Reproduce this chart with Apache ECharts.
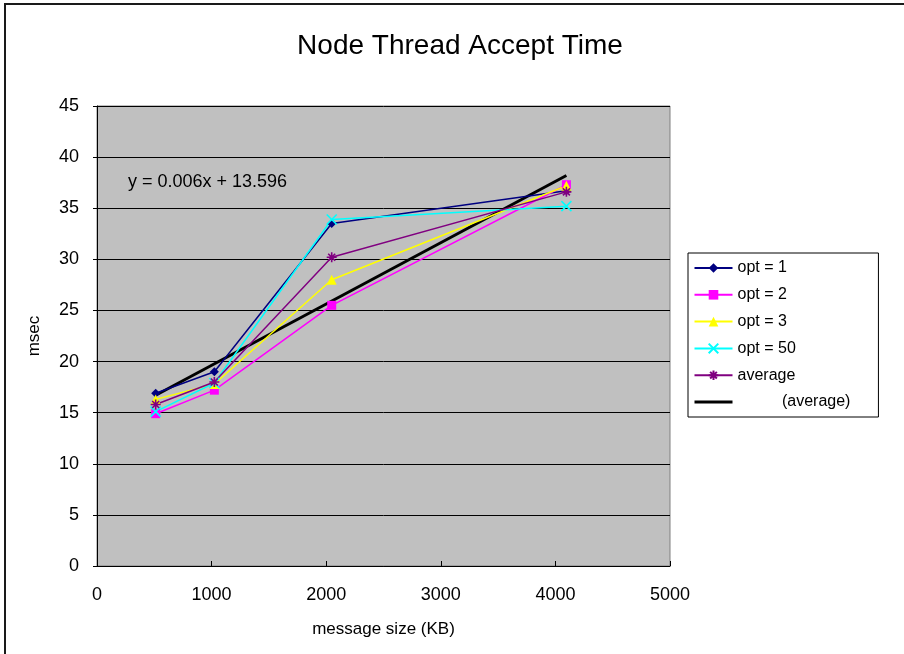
<!DOCTYPE html>
<html>
<head>
<meta charset="utf-8">
<script src="https://cdn.jsdelivr.net/npm/echarts@6/dist/echarts.min.js"></script>
<style>
  html, body { margin: 0; padding: 0; background: #fff; }
  #main { width: 904px; height: 654px; }
</style>
</head>
<body>
<div id="main"></div>
<script>
// message size (KB)
const sizes = [512, 1024, 2048, 4096];

// msec per series
const opt1 = [16.9, 19.0, 33.5, 36.7];
const opt2 = [14.9, 17.2, 25.5, 37.3];
const opt3 = [16.3, 17.8, 28.0, 37.2];
const opt50 = [15.1, 17.9, 33.9, 35.2];
const average = [15.8, 18.0, 30.2, 36.6];

// linear trend of average at its two ends
const trendX = [512, 4096];
const trendY = [16.7, 38.2];

const font = "'Liberation Sans', Arial, sans-serif";

const xSym = 'path://M0,0L10,10M10,0L0,10';
const starSym = 'path://M0,5L10,5M5,0L5,10M1.5,1.5L8.5,8.5M8.5,1.5L1.5,8.5';

function pairs(xs, ys) {
    return xs.map((x, i) => [x, ys[i]]);
}

function lineSeries(name, ys, color, symbol, size, stroke) {
    return {
        name: name,
        type: 'line',
        data: pairs(sizes, ys),
        symbol: symbol,
        symbolSize: size,
        lineStyle: {color: color, width: 1.5},
        itemStyle: stroke
            ? {color: 'none', borderColor: color, borderWidth: 1.6}
            : {color: color, borderColor: color, borderWidth: 0},
        emphasis: {disabled: true},
        z: 3
    };
}

const chart = echarts.init(document.getElementById('main'));

const option = {
    animation: false,
    backgroundColor: '#fff',
    textStyle: {fontFamily: font, color: '#000'},
    title: {
        text: 'Node Thread Accept Time',
        left: 455,
        textAlign: 'center',
        top: 27,
        textStyle: {fontSize: 28, fontWeight: 'normal', color: '#000', fontFamily: font}
    },
    graphic: [
        {
            type: 'rect',
            shape: {x: 5, y: 4, width: 1200, height: 1200},
            style: {fill: 'none', stroke: '#1a1a1a', lineWidth: 2},
            silent: true,
            z: -1
        },
        {
            type: 'text',
            left: 128,
            top: 173,
            style: {text: 'y = 0.006x + 13.596', fontSize: 18, fill: '#000', fontFamily: font},
            z: 10
        }
    ],
    legend: {
        orient: 'vertical',
        left: 688,
        top: 253,
        padding: [7, 28, 7, 5],
        itemWidth: 38,
        itemHeight: 12,
        itemGap: 10.8,
        backgroundColor: '#fff',
        borderColor: '#000',
        borderWidth: 1,
        borderRadius: 0,
        textStyle: {fontSize: 16, color: '#000', fontFamily: font},
        formatter: function (name) {
            return name === '(average)' ? '          (average)' : name;
        },
        data: [
            'opt = 1', 'opt = 2', 'opt = 3', 'opt = 50', 'average',
            {name: '(average)', itemStyle: {opacity: 0}, lineStyle: {width: 3}}
        ]
    },
    grid: {
        left: 97,
        top: 106,
        width: 573,
        height: 460,
        show: true,
        backgroundColor: '#c0c0c0',
        borderColor: '#808080',
        borderWidth: 1
    },
    xAxis: {
        type: 'value',
        min: 0,
        max: 5000,
        interval: 1000,
        name: 'message size (KB)',
        nameLocation: 'middle',
        nameGap: 55,
        nameTextStyle: {fontSize: 17, color: '#000', fontFamily: font},
        axisLine: {show: true, lineStyle: {color: '#000', width: 1}},
        axisTick: {show: true, inside: true, length: 5, lineStyle: {color: '#000'}},
        axisLabel: {fontSize: 18, color: '#000', margin: 20, fontFamily: font,
            formatter: v => String(v)},
        splitLine: {show: false}
    },
    yAxis: {
        type: 'value',
        min: 0,
        max: 45,
        interval: 5,
        name: 'msec',
        nameLocation: 'middle',
        nameGap: 54,
        nameRotate: 90,
        nameTextStyle: {fontSize: 17, color: '#000', fontFamily: font},
        axisLine: {show: true, lineStyle: {color: '#000', width: 1}},
        axisTick: {show: true, length: 4, lineStyle: {color: '#000'}},
        axisLabel: {fontSize: 18, color: '#000', margin: 18, fontFamily: font},
        splitLine: {show: true, lineStyle: {color: '#000', width: 1}}
    },
    series: [
        lineSeries('opt = 1', opt1, '#000080', 'diamond', 9, false),
        lineSeries('opt = 2', opt2, '#ff00ff', 'rect', 9, false),
        lineSeries('opt = 3', opt3, '#ffff00', 'triangle', 10, false),
        lineSeries('opt = 50', opt50, '#00ffff', xSym, 10, true),
        lineSeries('average', average, '#800080', starSym, 10, true),
        {
            name: '(average)',
            type: 'line',
            data: pairs(trendX, trendY),
            symbol: 'none',
            lineStyle: {color: '#000', width: 3},
            itemStyle: {color: '#000'},
            emphasis: {disabled: true},
            z: 2
        }
    ]
};

chart.setOption(option);
</script>
</body>
</html>
